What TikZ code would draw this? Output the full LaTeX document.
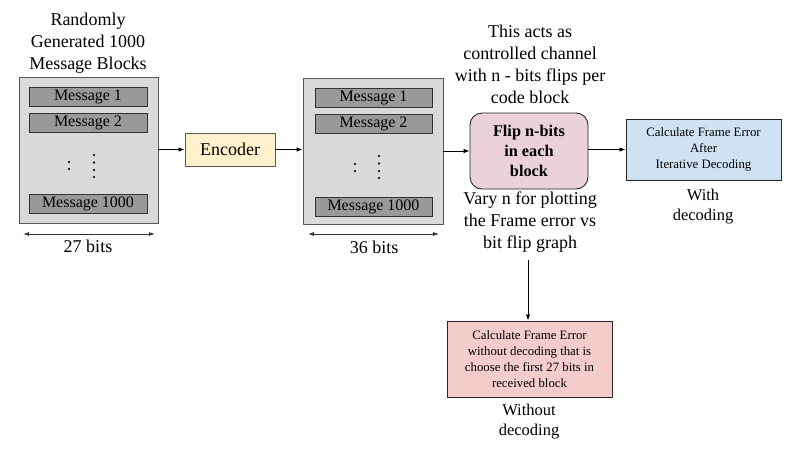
\documentclass[tikz,border=0pt]{standalone}
\usepackage{fontspec}
\setmainfont{Liberation Serif}
\usetikzlibrary{arrows.meta}
\definecolor{boxgray}{HTML}{D9D9D9}
\definecolor{msggray}{HTML}{999999}
\definecolor{edgegray}{HTML}{595959}
\definecolor{encyellow}{HTML}{FFF2CC}
\definecolor{flippink}{HTML}{EAD1DC}
\definecolor{decblue}{HTML}{CFE2F3}
\definecolor{errred}{HTML}{F4CCCC}
\begin{document}
\begin{tikzpicture}[x=1pt, y=-1pt,
  big/.style={font=\fontsize{18}{22}\selectfont, align=center},
  mid/.style={font=\fontsize{16.5}{20}\selectfont, align=center},
  small/.style={font=\fontsize{12.8}{16}\selectfont, align=center},
  frame/.style={draw=edgegray, line width=0.9pt, fill=boxgray, inner sep=0pt},
  msg/.style={draw=black!80, line width=0.9pt, fill=msggray, inner sep=0pt,
    minimum width=118pt, minimum height=19pt, font=\fontsize{16}{19}\selectfont},
  dot/.style={fill=black!85, circle, inner sep=0pt, minimum size=2.6pt},
  arr/.style={-{Latex[length=6pt,width=4.5pt]}, line width=0.8pt},
  dim/.style={{Latex[length=6pt,width=4pt]}-{Latex[length=6pt,width=4pt]}, line width=0.8pt, black!80}]
\useasboundingbox (0,0) rectangle (797,451);
% message blocks before encoding
\node[big] (title) at (88,43) {Randomly\\Generated 1000\\Message Blocks};
\node[frame, minimum width=139pt, minimum height=146pt] (src) at (88.5,150.5) {};
\node[msg] (sa) at (88,96.5) {Message 1};
\node[msg] (sb) at (88,122.5) {Message 2};
\node[msg] (sn) at (88,204) {Message 1000};
\foreach \y in {162,169} \node[dot] at (69,\y) {};
\foreach \y in {155,162.5,170,177} \node[dot] at (94,\y) {};
\coordinate (sl) at (23,234);
\coordinate (sr) at (155,234);
\draw[dim] (sl) to (sr);
\node[big] (sbits) at (88,246) {27 bits};
% encoder
\node[draw=edgegray, line width=0.9pt, fill=encyellow, minimum width=90pt, minimum height=33pt, big] (enc) at (230,149.5) {Encoder};
% code blocks after encoding
\node[frame, minimum width=140pt, minimum height=146pt] (code) at (373,151) {};
\node[msg, minimum width=117pt] (ca) at (373.5,98) {Message 1};
\node[msg, minimum width=117pt] (cb) at (373.5,123.5) {Message 2};
\node[msg, minimum width=117pt] (cn) at (373.5,207) {Message 1000};
\foreach \y in {164,171} \node[dot] at (355,\y) {};
\foreach \y in {156,163.5,171,178} \node[dot] at (379,\y) {};
\coordinate (cl) at (308,234);
\coordinate (cr) at (439,234);
\draw[dim] (cl) to (cr);
\node[big] (cbits) at (374,247) {36 bits};
% channel
\node[big] (chan) at (530,64) {This acts as\\controlled channel\\with n - bits flips per\\code block};
\node[draw=black!85, line width=0.9pt, fill=flippink, rounded corners=12pt, minimum width=118pt, minimum height=76pt,
  font=\fontsize{16.3}{20}\selectfont\bfseries, align=center] (flip) at (529,151) {Flip n-bits\\in each\\block};
\node[big] (vary) at (530,222) {Vary n for plotting\\the Frame error vs\\bit flip graph};
% results
\node[draw=black!85, line width=0.9pt, fill=decblue, minimum width=155pt, minimum height=61pt, small] (dec) at (703.5,149.5) {Calculate Frame Error\\After\\Iterative Decoding};
\node[mid] (with) at (703,207) {With\\decoding};
\node[draw=black!85, line width=0.9pt, fill=errred, minimum width=165pt, minimum height=76pt, small] (raw) at (529.5,359) {Calculate Frame Error\\without decoding that is\\choose the first 27 bits in\\received block};
\node[mid] (without) at (529,422) {Without\\decoding};
\coordinate (vt) at (528,260);
\draw[arr] (src.east |- enc) to (enc);
\draw[arr] (enc) to (code.west |- enc);
\draw[arr] (code) to (flip);
\draw[arr] (flip.east |- dec) to (dec);
\draw[arr] (vt) to (vt |- raw.north);
\end{tikzpicture}
\end{document}
